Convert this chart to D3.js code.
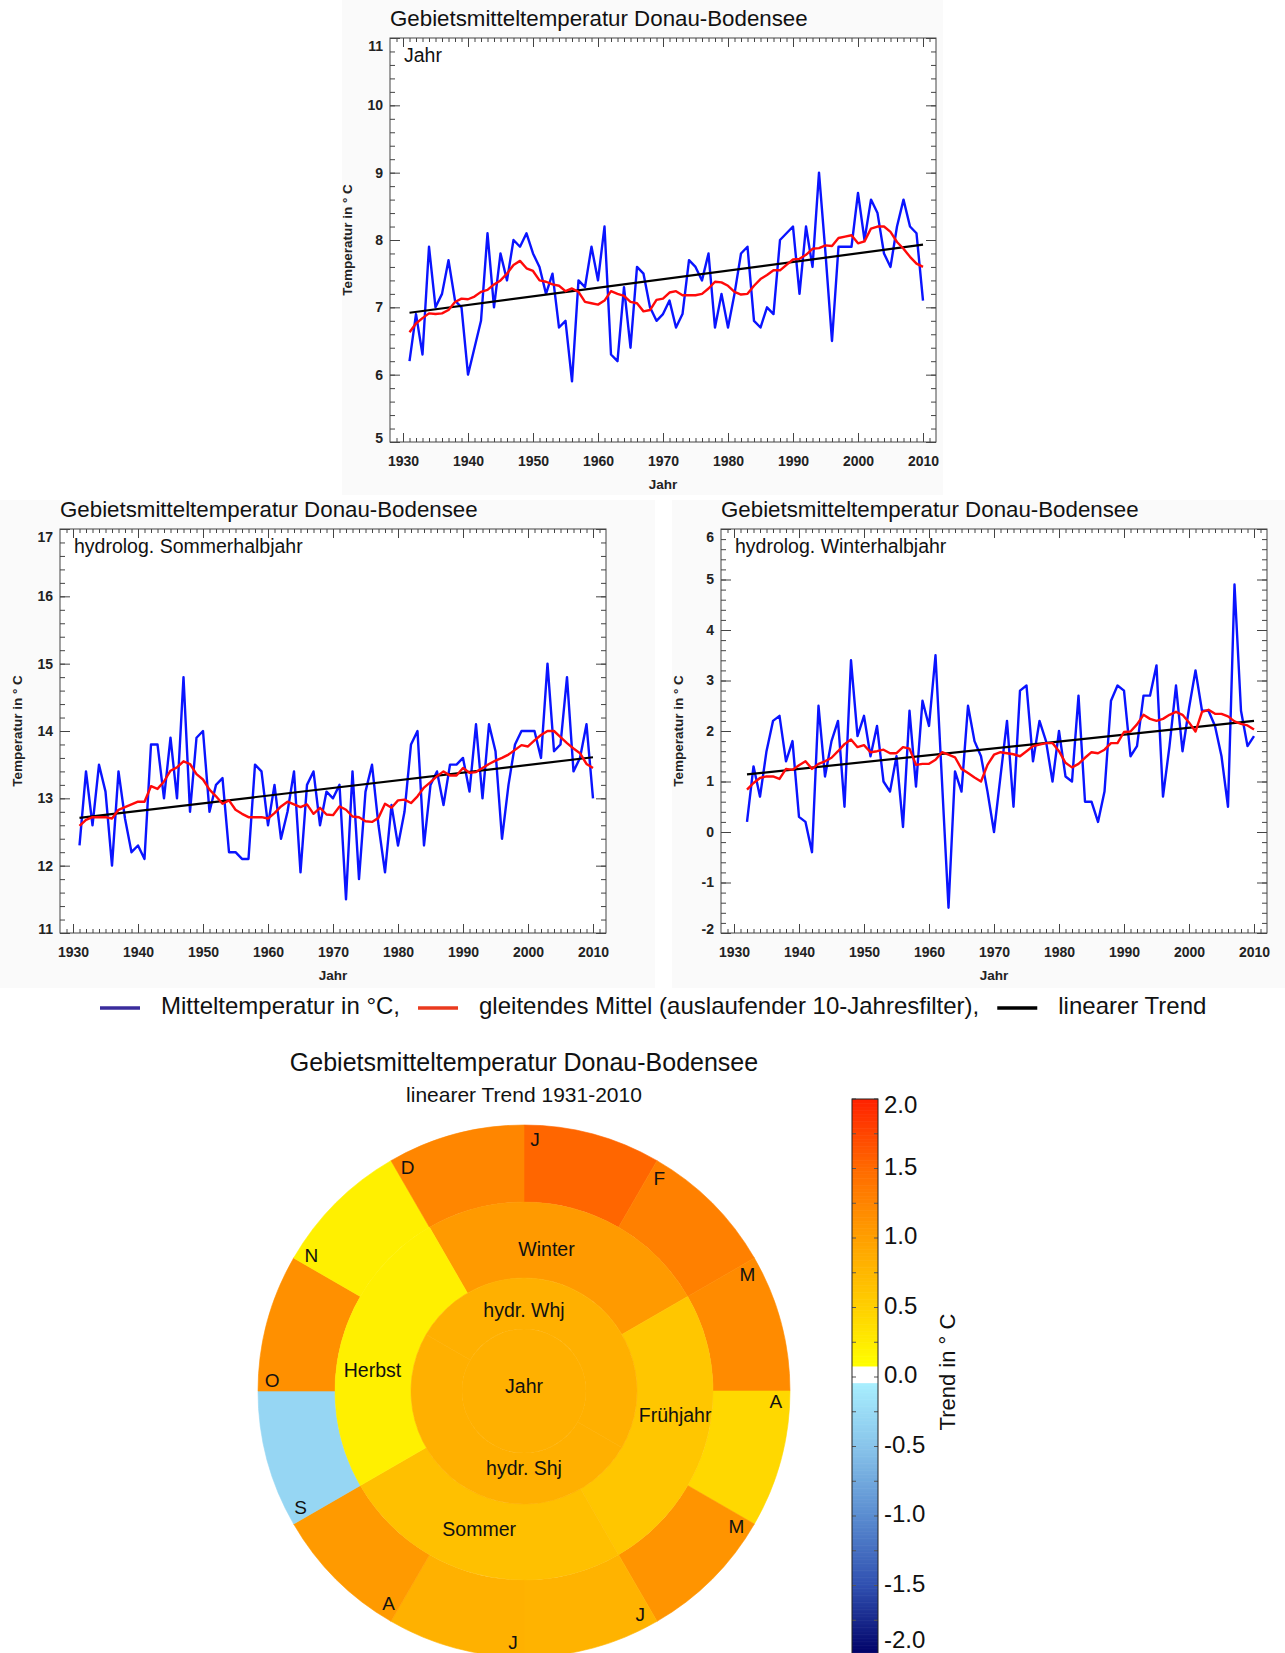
<!DOCTYPE html>
<html>
<head>
<meta charset="utf-8">
<script src="https://cdn.jsdelivr.net/npm/d3@7"></script>
<style>
  body { margin: 0; background: #fff; }
  svg { display: block; font-family: "Liberation Sans", Arial, Helvetica, sans-serif; }
</style>
</head>
<body>
<svg id="chart" width="1285" height="1653"></svg>
<script>
// ---- Jahr (1931-2010)
const jahrStart = 1931;
const jahrTemp = [6.2, 6.9, 6.3, 7.9, 7.0, 7.2, 7.7, 7.1, 7.0, 6.0,
  6.4, 6.8, 8.1, 7.0, 7.8, 7.4, 8.0, 7.9, 8.1, 7.8,
  7.6, 7.2, 7.5, 6.7, 6.8, 5.9, 7.4, 7.3, 7.9, 7.4,
  8.2, 6.3, 6.2, 7.3, 6.4, 7.6, 7.5, 7.0, 6.8, 6.9,
  7.1, 6.7, 6.9, 7.7, 7.6, 7.4, 7.8, 6.7, 7.2, 6.7,
  7.2, 7.8, 7.9, 6.8, 6.7, 7.0, 6.9, 8.0, 8.1, 8.2,
  7.2, 8.2, 7.6, 9.0, 7.8, 6.5, 7.9, 7.9, 7.9, 8.7,
  8.0, 8.6, 8.4, 7.8, 7.6, 8.2, 8.6, 8.2, 8.1, 7.1];
const jahrMittel = [6.63, 6.76, 6.84, 6.91, 6.90, 6.91, 6.96, 7.08, 7.13, 7.12,
  7.16, 7.23, 7.26, 7.34, 7.40, 7.50, 7.63, 7.69, 7.58, 7.54,
  7.40, 7.38, 7.34, 7.32, 7.24, 7.28, 7.23, 7.08, 7.06, 7.04,
  7.10, 7.24, 7.20, 7.17, 7.08, 7.06, 6.94, 6.96, 7.11, 7.13,
  7.22, 7.24, 7.18, 7.18, 7.18, 7.20, 7.28, 7.38, 7.37, 7.32,
  7.23, 7.19, 7.20, 7.32, 7.42, 7.48, 7.55, 7.55, 7.63, 7.71,
  7.72, 7.78, 7.87, 7.88, 7.92, 7.91, 8.03, 8.05, 8.07, 7.95,
  7.98, 8.17, 8.20, 8.20, 8.12, 7.97, 7.87, 7.75, 7.65, 7.60];
const jahrTrend = [6.92, 7.93];

// ---- hydrolog. Sommerhalbjahr (1931-2010)
const sommerStart = 1931;
const sommerTemp = [12.3, 13.4, 12.6, 13.5, 13.1, 12.0, 13.4, 12.7, 12.2, 12.3,
  12.1, 13.8, 13.8, 13.0, 13.9, 13.0, 14.8, 12.8, 13.9, 14.0,
  12.8, 13.2, 13.3, 12.2, 12.2, 12.1, 12.1, 13.5, 13.4, 12.6,
  13.2, 12.4, 12.8, 13.4, 11.9, 13.2, 13.4, 12.6, 13.1, 13.0,
  13.2, 11.5, 13.4, 11.8, 13.1, 13.5, 12.6, 11.9, 12.9, 12.3,
  12.8, 13.8, 14.0, 12.3, 13.2, 13.4, 12.9, 13.5, 13.5, 13.6,
  13.1, 14.1, 13.0, 14.1, 13.7, 12.4, 13.2, 13.8, 14.0, 14.0,
  14.0, 13.6, 15.0, 13.7, 13.8, 14.8, 13.4, 13.6, 14.1, 13.0];
const sommerMittel = [12.59, 12.68, 12.72, 12.72, 12.72, 12.70, 12.83, 12.87, 12.91, 12.95,
  12.95, 13.18, 13.14, 13.25, 13.41, 13.46, 13.55, 13.51, 13.36, 13.28,
  13.13, 13.03, 12.92, 12.97, 12.83, 12.77, 12.72, 12.72, 12.72, 12.70,
  12.78, 12.88, 12.95, 12.91, 12.87, 12.91, 12.77, 12.86, 12.76, 12.75,
  12.88, 12.83, 12.73, 12.72, 12.66, 12.65, 12.71, 12.92, 12.86, 12.97,
  12.98, 12.93, 13.03, 13.16, 13.24, 13.33, 13.40, 13.34, 13.34, 13.45,
  13.38, 13.39, 13.45, 13.51, 13.56, 13.60, 13.65, 13.72, 13.79, 13.77,
  13.86, 13.94, 14.00, 14.00, 13.91, 13.82, 13.74, 13.67, 13.51, 13.45];
const sommerTrend = [12.71, 13.61];

// ---- hydrolog. Winterhalbjahr (1932-2010)
const winterStart = 1932;
const winterTemp = [0.2, 1.3, 0.7, 1.6, 2.2, 2.3, 1.4, 1.8, 0.3, 0.2,
  -0.4, 2.5, 1.1, 1.8, 2.2, 0.5, 3.4, 1.9, 2.3, 1.5,
  2.1, 1.0, 0.8, 1.5, 0.1, 2.4, 0.9, 2.6, 2.1, 3.5,
  1.0, -1.5, 1.2, 0.8, 2.5, 1.8, 1.5, 0.8, 0.0, 1.1,
  2.2, 0.5, 2.8, 2.9, 1.4, 2.2, 1.8, 1.0, 2.0, 1.1,
  1.0, 2.7, 0.6, 0.6, 0.2, 0.8, 2.6, 2.9, 2.8, 1.5,
  1.7, 2.7, 2.7, 3.3, 0.7, 1.7, 2.9, 1.6, 2.45, 3.2,
  2.4, 2.4, 2.1, 1.5, 0.5, 4.9, 2.4, 1.7, 1.9];
const winterMittel = [0.84, 0.97, 1.07, 1.10, 1.10, 1.05, 1.25, 1.23, 1.32, 1.40,
  1.25, 1.35, 1.40, 1.47, 1.60, 1.74, 1.83, 1.68, 1.72, 1.58,
  1.60, 1.63, 1.56, 1.56, 1.68, 1.65, 1.33, 1.35, 1.35, 1.43,
  1.58, 1.53, 1.48, 1.25, 1.17, 1.08, 1.00, 1.33, 1.53, 1.58,
  1.56, 1.54, 1.50, 1.60, 1.70, 1.73, 1.76, 1.76, 1.60, 1.37,
  1.28, 1.35, 1.47, 1.58, 1.56, 1.63, 1.76, 1.76, 1.98, 1.99,
  2.13, 2.32, 2.24, 2.20, 2.24, 2.32, 2.38, 2.32, 2.17, 1.99,
  2.38, 2.42, 2.34, 2.34, 2.29, 2.19, 2.14, 2.11, 2.03];
const winterTrend = [1.14, 2.20];

const xTicks = [1930, 1940, 1950, 1960, 1970, 1980, 1990, 2000, 2010];

// ---- Legende
const legendLabels = ["Mitteltemperatur in \u00B0C,", "gleitendes Mittel (auslaufender 10-Jahresfilter),", "linearer Trend"];
const legendColors = ["#3a2c9c", "#ea3a1e", "#000000"];

// ---- Trend 1931-2010 (Kreisdiagramm)
const monthNames = ["J", "F", "M", "A", "M", "J", "J", "A", "S", "O", "N", "D"];
const monthTrend = [1.53, 1.30, 1.19, 0.43, 1.11, 0.80, 0.82, 1.06, -0.30, 1.15, 0.21, 1.24];
const seasonNames = ["Winter", "Fr\u00FChjahr", "Sommer", "Herbst"];
const seasonTrend = [1.06, 0.60, 0.67, 0.21];
const halfYearNames = ["hydr. Whj", "hydr. Shj"];
const halfYearTrend = [0.83, 0.83];
const yearName = "Jahr";
const yearTrend = 0.83;
const colorbarTicks = [-2.0, -1.5, -1.0, -0.5, 0.0, 0.5, 1.0, 1.5, 2.0];

const svg = d3.select("#chart");
const title = "Gebietsmitteltemperatur Donau-Bodensee";

// light panel backgrounds like the pasted plot images
[[342, 0, 601, 495], [0, 500, 655, 488], [672, 500, 613, 488]].forEach(r => {
  svg.append("rect").attr("x", r[0]).attr("y", r[1]).attr("width", r[2]).attr("height", r[3]).attr("fill", "#fafafa");
});

const plotW = 546, plotH = 404;

function panel(o) {
  const g = svg.append("g");
  const x = d3.scaleLinear().domain([1928, 2012]).range([o.left, o.left + plotW]);
  const y = d3.scaleLinear().domain(o.yDomain).range([o.top + plotH, o.top]);
  const years = d3.range(o.start, o.start + o.temp.length);

  g.append("rect")
    .attr("x", o.left).attr("y", o.top).attr("width", plotW).attr("height", plotH)
    .attr("fill", "#fff");

  const yMajor = d3.range(o.yDomain[0], o.yDomain[1] + 0.001, 1);
  const yMinor = d3.range(0, Math.round((o.yDomain[1] - o.yDomain[0]) / 0.2) + 1).map(i => o.yDomain[0] + i * 0.2);
  const xMinor = d3.range(1929, 2012);

  const style = sel => {
    sel.select(".domain").remove();
    sel.selectAll(".tick line").attr("stroke", "#444");
    sel.selectAll(".tick text").attr("fill", "#222").attr("font-size", 14).attr("font-weight", "bold");
  };

  // minor ticks
  g.append("g").attr("transform", `translate(0,${o.top + plotH})`)
    .call(d3.axisBottom(x).tickValues(xMinor).tickSize(-4).tickFormat("")).call(style);
  g.append("g").attr("transform", `translate(0,${o.top})`)
    .call(d3.axisTop(x).tickValues(xMinor).tickSize(-4).tickFormat("")).call(style);
  g.append("g").attr("transform", `translate(${o.left},0)`)
    .call(d3.axisLeft(y).tickValues(yMinor).tickSize(-5).tickFormat("")).call(style);
  g.append("g").attr("transform", `translate(${o.left + plotW},0)`)
    .call(d3.axisRight(y).tickValues(yMinor).tickSize(-5).tickFormat("")).call(style);

  // major ticks
  g.append("g").attr("transform", `translate(0,${o.top + plotH})`)
    .call(d3.axisBottom(x).tickValues(xTicks).tickSize(-9).tickPadding(14).tickFormat(d => String(d))).call(style);
  g.append("g").attr("transform", `translate(0,${o.top})`)
    .call(d3.axisTop(x).tickValues(xTicks).tickSize(-9).tickFormat("")).call(style);
  const ya = g.append("g").attr("transform", `translate(${o.left},0)`)
    .call(d3.axisLeft(y).tickValues(yMajor).tickSize(-10).tickPadding(7).tickFormat(d => String(d))).call(style);
  g.append("g").attr("transform", `translate(${o.left + plotW},0)`)
    .call(d3.axisRight(y).tickValues(yMajor).tickSize(-10).tickFormat("")).call(style);

  // nudge end labels inside like the original
  ya.selectAll(".tick text").attr("dy", d => d === o.yDomain[1] ? "0.9em" : d === o.yDomain[0] ? "0.05em" : "0.32em");

  g.append("rect")
    .attr("x", o.left).attr("y", o.top).attr("width", plotW).attr("height", plotH)
    .attr("fill", "none").attr("stroke", "#444").attr("stroke-width", 1);

  const line = d3.line().x((d, i) => x(years[i])).y(d => y(d));

  g.append("path").datum(o.temp).attr("d", line)
    .attr("fill", "none").attr("stroke", "#0a14ff").attr("stroke-width", 2.4).attr("stroke-linejoin", "round");
  g.append("line")
    .attr("x1", x(years[0])).attr("y1", y(o.trend[0]))
    .attr("x2", x(years[years.length - 1])).attr("y2", y(o.trend[1]))
    .attr("stroke", "#000").attr("stroke-width", 2.2);
  g.append("path").datum(o.mean).attr("d", line)
    .attr("fill", "none").attr("stroke", "#ff0a0a").attr("stroke-width", 2.4).attr("stroke-linejoin", "round");

  // texts
  g.append("text").attr("x", o.left).attr("y", o.top - 18)
    .attr("font-size", 22.3).attr("fill", "#111").attr("dominant-baseline", "middle").text(title);
  g.append("text").attr("x", o.left + 14).attr("y", o.top + 19)
    .attr("font-size", 19.5).attr("fill", "#111").attr("dominant-baseline", "middle").text(o.label);
  g.append("text").attr("x", o.left + plotW / 2).attr("y", o.top + plotH + 43)
    .attr("font-size", 13.5).attr("font-weight", "bold").attr("fill", "#222")
    .attr("text-anchor", "middle").attr("dominant-baseline", "middle").text("Jahr");
  g.append("text")
    .attr("transform", `translate(${o.left - 42},${o.top + plotH / 2}) rotate(-90)`)
    .attr("font-size", 13.5).attr("font-weight", "bold").attr("fill", "#222")
    .attr("text-anchor", "middle").attr("dominant-baseline", "middle").text("Temperatur in \u00B0 C");
}

panel({ left: 390, top: 38, yDomain: [5, 11], start: jahrStart, temp: jahrTemp, mean: jahrMittel, trend: jahrTrend, label: "Jahr" });
panel({ left: 60, top: 529, yDomain: [11, 17], start: sommerStart, temp: sommerTemp, mean: sommerMittel, trend: sommerTrend, label: "hydrolog. Sommerhalbjahr" });
panel({ left: 721, top: 529, yDomain: [-2, 6], start: winterStart, temp: winterTemp, mean: winterMittel, trend: winterTrend, label: "hydrolog. Winterhalbjahr" });

// ---- Legende
const legend = svg.append("g");
let lx = 100;
legendLabels.forEach((lab, i) => {
  legend.append("line").attr("x1", lx).attr("x2", lx + 40).attr("y1", 1008).attr("y2", 1008)
    .attr("stroke", legendColors[i]).attr("stroke-width", 3.5);
  const t = legend.append("text").attr("x", lx + 61).attr("y", 1008)
    .attr("font-size", 24).attr("fill", "#111").attr("dominant-baseline", "middle").text(lab);
  lx = lx + 61 + t.node().getComputedTextLength() + 18;
});

// ---- Kreisdiagramm
const posColor = d3.scaleLinear().domain([0.08, 0.5, 1.0, 1.5, 2.0])
  .range(["#ffff00", "#ffd000", "#ffa000", "#ff6a00", "#ff2200"]);
const negColor = d3.scaleLinear().domain([-2.0, -1.5, -1.0, -0.5, -0.04])
  .range(["#000066", "#3050b0", "#5a8cd0", "#88c4ea", "#a8eefe"]);
const trendColor = v => (v > -0.04 && v < 0.08) ? "#ffffff" : (v > 0 ? posColor(v) : negColor(v));

const cx = 524, cy = 1391;
const rJahr = 62, rHalf = 113, rSeason = 189, rMonth = 266;
const pie = svg.append("g").attr("transform", `translate(${cx},${cy})`);
const deg = Math.PI / 180;
const arc = d3.arc();

function sector(r0, r1, a0, a1, v) {
  pie.append("path")
    .attr("d", arc({ innerRadius: r0, outerRadius: r1, startAngle: a0 * deg, endAngle: a1 * deg }))
    .attr("fill", trendColor(v)).attr("stroke", trendColor(v)).attr("stroke-width", 0.6);
}
function label(txt, r, a, size) {
  pie.append("text")
    .attr("x", r * Math.sin(a * deg)).attr("y", -r * Math.cos(a * deg))
    .attr("font-size", size).attr("fill", "#111")
    .attr("text-anchor", "middle").attr("dominant-baseline", "central").text(txt);
}

monthNames.forEach((m, i) => sector(rSeason, rMonth, i * 30, i * 30 + 30, monthTrend[i]));
seasonNames.forEach((s, i) => sector(rHalf, rSeason, -30 + i * 90, 60 + i * 90, seasonTrend[i]));
halfYearNames.forEach((h, i) => sector(rJahr, rHalf, -60 + i * 180, 120 + i * 180, halfYearTrend[i]));
sector(0, rJahr, 0, 360, yearTrend);

// label placement (angle from 12 o'clock, radius)
const seasonLabelPos = [[9, 144], [99, 153], [198, 145], [278, 153]];
monthNames.forEach((m, i) => label(m, 252, i * 30 + 2.5, 19));
seasonNames.forEach((s, i) => label(s, seasonLabelPos[i][1], seasonLabelPos[i][0], 19.5));
label(halfYearNames[0], 81, 0, 19.5);
label(yearName, 5, 0, 19.5);
label(halfYearNames[1], 77, 180, 19.5);

svg.append("text").attr("x", cx).attr("y", 1064).attr("font-size", 25).attr("fill", "#111")
  .attr("text-anchor", "middle").attr("dominant-baseline", "middle").text(title);
svg.append("text").attr("x", cx).attr("y", 1096).attr("font-size", 21).attr("fill", "#111")
  .attr("text-anchor", "middle").attr("dominant-baseline", "middle").text("linearer Trend 1931-2010");

// ---- Farbskala
const cbX = 852, cbW = 26;
const cbY = d3.scaleLinear().domain([-2, 2]).range([1655, 1099]);
const cb = svg.append("g");
cb.selectAll("rect.cell").data(d3.range(-200, 200).map(i => i / 100)).join("rect")
  .attr("class", "cell")
  .attr("x", cbX).attr("width", cbW)
  .attr("y", d => cbY(d + 0.01)).attr("height", d => cbY(d) - cbY(d + 0.01) + 0.6)
  .attr("fill", d => trendColor(d + 0.005));
cb.selectAll("line.tk").data(d3.range(-8, 9).map(i => i * 0.25)).join("line")
  .attr("class", "tk")
  .attr("x1", cbX).attr("x2", cbX + 4).attr("y1", d => cbY(d)).attr("y2", d => cbY(d))
  .attr("stroke", "#555").attr("stroke-width", 1);
cb.selectAll("line.tk2").data(d3.range(-8, 9).map(i => i * 0.25)).join("line")
  .attr("class", "tk2")
  .attr("x1", cbX + cbW - 4).attr("x2", cbX + cbW).attr("y1", d => cbY(d)).attr("y2", d => cbY(d))
  .attr("stroke", "#555").attr("stroke-width", 1);
cb.append("rect").attr("x", cbX).attr("y", cbY(2)).attr("width", cbW).attr("height", cbY(-2) - cbY(2))
  .attr("fill", "none").attr("stroke", "#222").attr("stroke-width", 1);
cb.selectAll("text.lab").data(colorbarTicks).join("text")
  .attr("class", "lab")
  .attr("x", 884).attr("y", d => Math.max(1107, Math.min(1642, cbY(d))))
  .attr("font-size", 24).attr("fill", "#111").attr("dominant-baseline", "middle")
  .text(d => d.toFixed(1));
cb.append("text")
  .attr("transform", "translate(949,1372) rotate(-90)")
  .attr("font-size", 22).attr("fill", "#111")
  .attr("text-anchor", "middle").attr("dominant-baseline", "middle").text("Trend in \u00B0 C");
</script>
</body>
</html>
